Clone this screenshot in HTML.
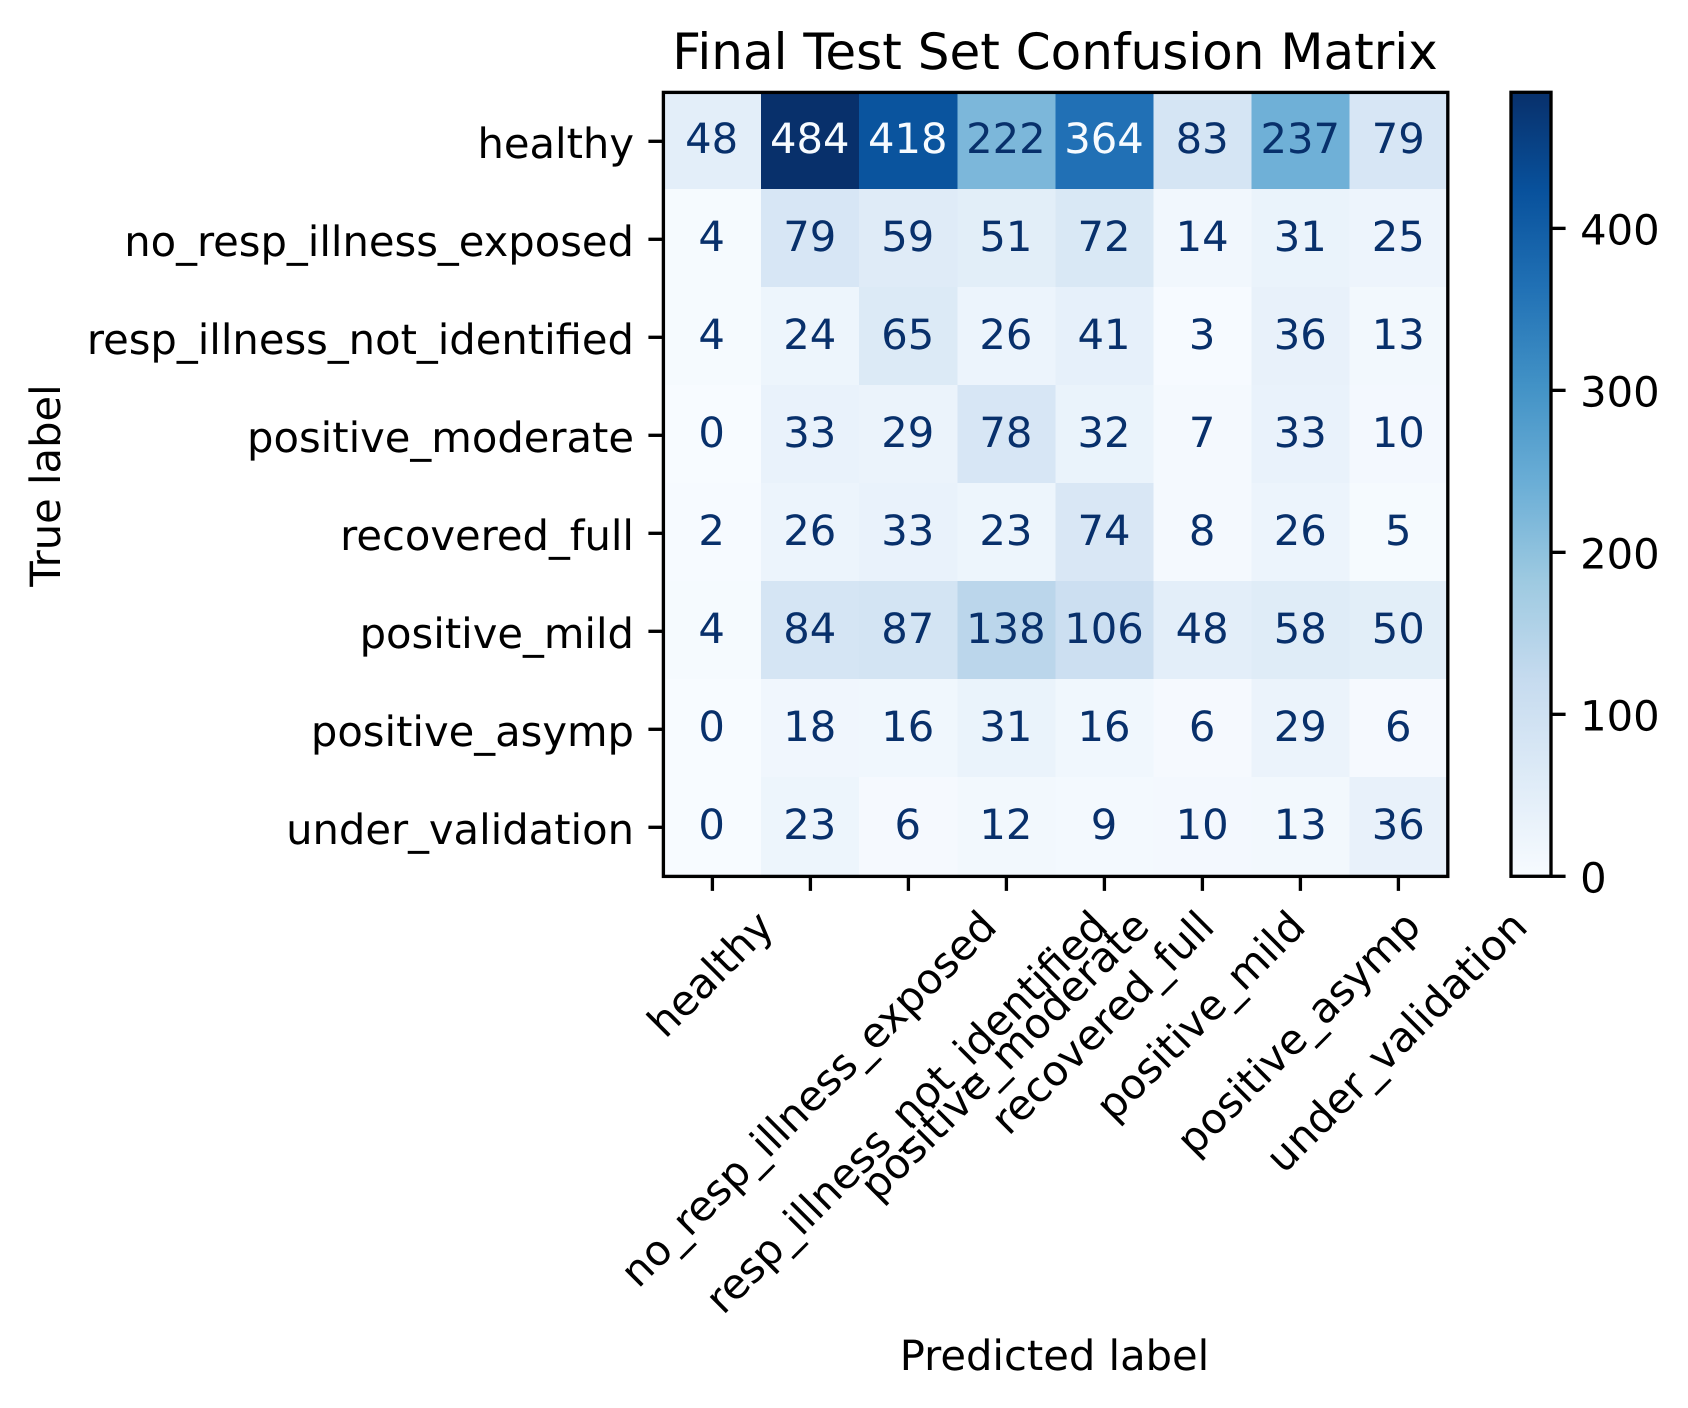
<!DOCTYPE html>
<html lang="en">
<head>
<meta charset="utf-8">
<title>Final Test Set Confusion Matrix</title>
<style>
html,body{margin:0;padding:0;background:#fff;width:1688px;height:1408px;overflow:hidden}
svg{display:block}
text{font-family:"DejaVu Sans","Liberation Sans",sans-serif;font-size:41.67px;fill:#000;text-rendering:geometricPrecision}
</style>
</head>
<body>
<svg id="chart" xmlns="http://www.w3.org/2000/svg" width="1688" height="1408" viewBox="0 0 1688 1408">
<defs><linearGradient id="cbar-gradient" x1="0" y1="1" x2="0" y2="0"></linearGradient></defs>
<g id="cells"></g>
<g id="cell-labels"></g>
<rect x="663.4" y="92.4" width="784.4" height="784" fill="none" stroke="#000" stroke-width="3.33" stroke-linejoin="miter"/>
<g id="x-axis"></g>
<g id="y-axis"></g>
<text x="1055" y="68.8" text-anchor="middle" style="font-size:50px">Final Test Set Confusion Matrix</text>
<text x="1054.5" y="1370" text-anchor="middle">Predicted label</text>
<text transform="translate(60,485.5) rotate(-90)" text-anchor="middle">True label</text>
<rect x="1511" y="92.3" width="40" height="784" fill="url(#cbar-gradient)"/>
<rect x="1511" y="92.3" width="40" height="784" fill="none" stroke="#000" stroke-width="3.33"/>
<g id="colorbar-axis"></g>
</svg>
<script>
const categories = ["healthy","no_resp_illness_exposed","resp_illness_not_identified","positive_moderate","recovered_full","positive_mild","positive_asymp","under_validation"];
const rowHealthy = [48,484,418,222,364,83,237,79];
const rowNoRespIllnessExposed = [4,79,59,51,72,14,31,25];
const rowRespIllnessNotIdentified = [4,24,65,26,41,3,36,13];
const rowPositiveModerate = [0,33,29,78,32,7,33,10];
const rowRecoveredFull = [2,26,33,23,74,8,26,5];
const rowPositiveMild = [4,84,87,138,106,48,58,50];
const rowPositiveAsymp = [0,18,16,31,16,6,29,6];
const rowUnderValidation = [0,23,6,12,9,10,13,36];
const matrix = [rowHealthy,rowNoRespIllnessExposed,rowRespIllnessNotIdentified,rowPositiveModerate,rowRecoveredFull,rowPositiveMild,rowPositiveAsymp,rowUnderValidation];
const colorbarTicks = [0,100,200,300,400];
const blues = ["#f7fbff","#deebf7","#c6dbef","#9ecae1","#6baed6","#4292c6","#2171b5","#08519c","#08306b"];

const NS = "http://www.w3.org/2000/svg";
const AX = {left:663, top:92.3, size:784};
const TICK = 14.58, PAD = 14.58, LW = 3.33;
const ASC = 31.6, LINE_H = 40.3, CENTER_BASE = 11.5;
const flat = matrix.flat();
const vmin = Math.min(...flat), vmax = Math.max(...flat);
const n = categories.length, cellSize = AX.size / n, cellWidth = 98.1;

function cellLeft(c){ return AX.left + cellWidth * c; }
function cellTextX(c){ return 711.6 + cellWidth * c; }
function xTick(i){ return 712.4 + cellSize * i; }
function yCenter(i){ return AX.top + cellSize * (i + 0.5); }
function cbarY(v){ return AX.top + AX.size - (v - vmin) / (vmax - vmin) * AX.size; }
function hexRgb(h){ return [1,3,5].map(function(k){ return parseInt(h.substr(k,2),16); }); }
function colorFor(v){
  const t = (v - vmin) / (vmax - vmin) * (blues.length - 1);
  const i = Math.min(Math.floor(t), blues.length - 2), f = t - i;
  const a = hexRgb(blues[i]), b = hexRgb(blues[i+1]);
  return "rgb(" + a.map(function(c,k){ return Math.round(c + (b[k]-c)*f); }).join(",") + ")";
}
function make(tag, attrs, parent){
  const el = document.createElementNS(NS, tag);
  Object.keys(attrs).forEach(function(k){ el.setAttribute(k, attrs[k]); });
  parent.appendChild(el);
  return el;
}

const cellsG = document.getElementById("cells");
const labelsG = document.getElementById("cell-labels");
const xG = document.getElementById("x-axis");
const yG = document.getElementById("y-axis");
const cG = document.getElementById("colorbar-axis");
const grad = document.getElementById("cbar-gradient");

blues.forEach(function(c,i){
  make("stop", {offset: i / (blues.length - 1), "stop-color": c}, grad);
});

const thresh = (vmin + vmax) / 2;
matrix.forEach(function(row, r){
  row.forEach(function(v, c){
    const cell = make("rect", {x: cellLeft(c), y: yCenter(r) - cellSize / 2 - 1.3, width: cellWidth, height: cellSize, fill: colorFor(v), "shape-rendering": "crispEdges"}, cellsG);
    
    
    const t = make("text", {x: cellTextX(c), y: yCenter(r) + CENTER_BASE + 0.3, "text-anchor": "middle"}, labelsG);
    
    
    t.textContent = v;
    t.style.fill = v < thresh ? blues[blues.length - 1] : blues[0];
  });
});

categories.forEach(function(name, i){
  const yt = make("line", {x1: AX.left - TICK, x2: AX.left, y1: yCenter(i), y2: yCenter(i), stroke: "#000", "stroke-width": LW}, yG);
  
  
  const yl = make("text", {x: 634, y: yCenter(i) + ASC / 2 + 1, "text-anchor": "end"}, yG);
  
  
  yl.textContent = name;

  const bottom = AX.top + AX.size;
  const xt = make("line", {x1: xTick(i), x2: xTick(i), y1: bottom, y2: bottom + TICK, stroke: "#000", "stroke-width": LW}, xG);
  
  
  const xl = make("text", {y: CENTER_BASE, "text-anchor": "middle"}, xG);
  
  
  xl.textContent = name;
  const w = xl.getComputedTextLength();
  const rotated = (w + LINE_H) * Math.SQRT1_2;
  const cy = bottom + TICK + PAD + rotated / 2 + 1;
  xl.setAttribute("transform", "translate(" + xTick(i) + "," + cy + ") rotate(-45)");
});

colorbarTicks.forEach(function(v){
  if (v > vmax) return;
  const ct = make("line", {x1: 1551, x2: 1551 + TICK, y1: cbarY(v), y2: cbarY(v), stroke: "#000", "stroke-width": LW}, cG);
  
  
  const cl = make("text", {x: 1551 + TICK + PAD, y: cbarY(v) + ASC / 2 + 0.5}, cG);
  
  
  cl.textContent = v;
});
</script>
</body>
</html>
